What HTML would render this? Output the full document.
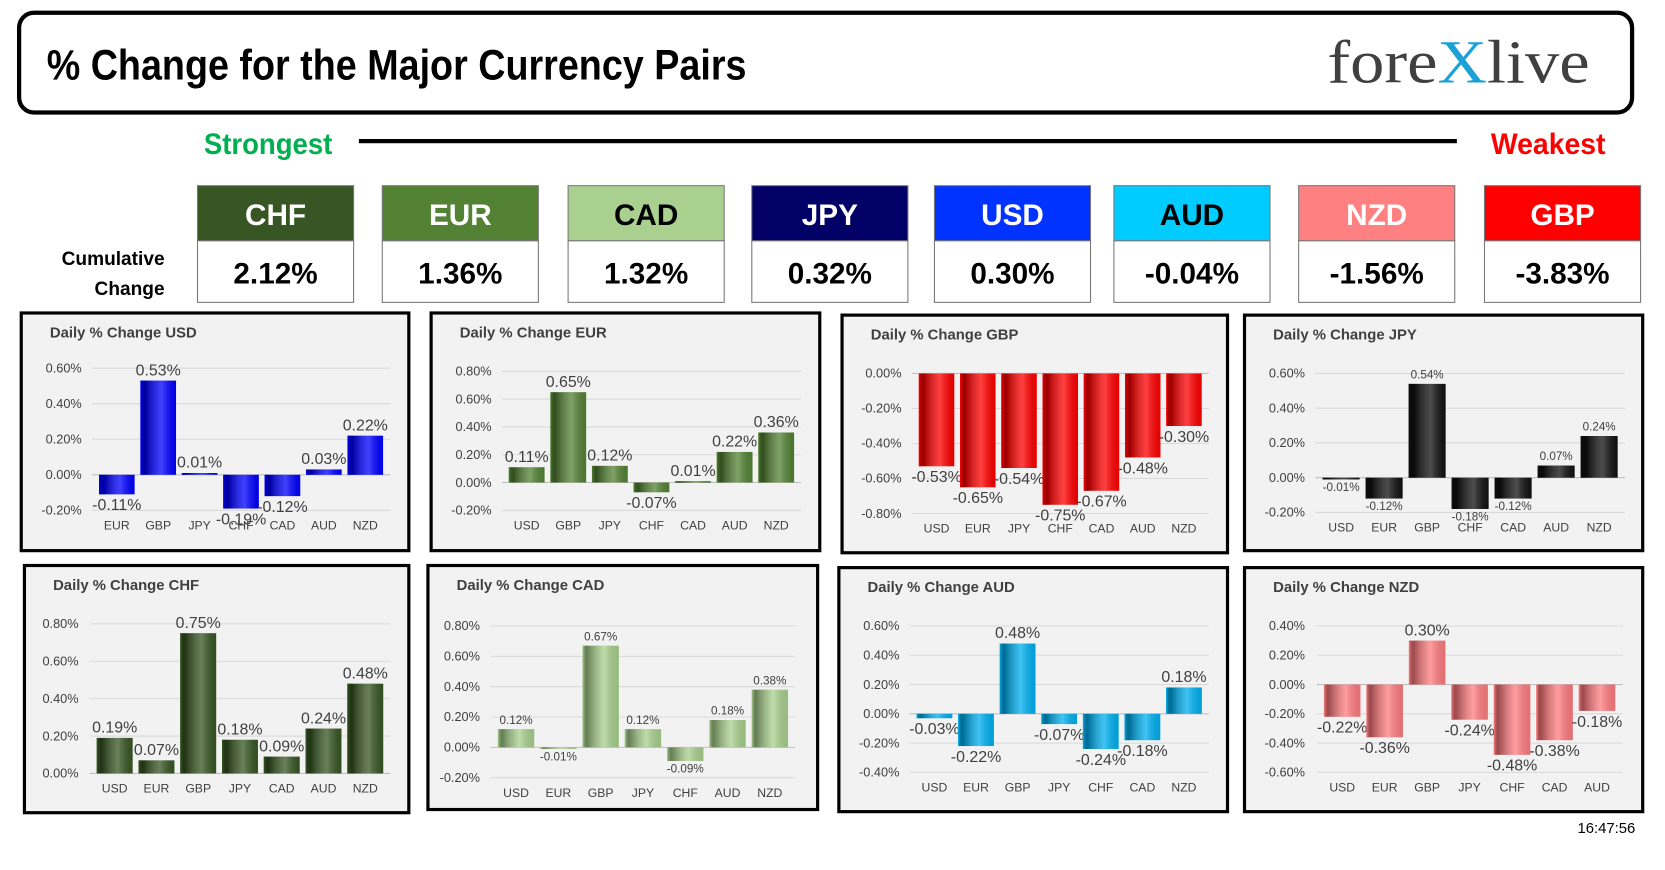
<!DOCTYPE html>
<html><head><meta charset="utf-8">
<style>
html,body{margin:0;padding:0;background:#fff;}
svg{display:block;font-family:"Liberation Sans",sans-serif;}
.imp{font-family:"Liberation Sans Narrow","Liberation Sans",sans-serif;font-weight:bold;}
</style></head>
<body>
<svg id="root" width="1665" height="870" viewBox="0 0 1568 820" preserveAspectRatio="none">
<defs id="defs"></defs>
<rect x="18" y="12" width="1519" height="94" rx="14" fill="#fff" stroke="#000" stroke-width="4"/>
<text x="44" y="75" class="imp" font-size="40" textLength="659" lengthAdjust="spacingAndGlyphs">% Change for the Major Currency Pairs</text>
<text x="1250" y="78" font-family="Liberation Serif,serif" font-size="58" fill="#404040" textLength="247" lengthAdjust="spacingAndGlyphs">fore<tspan fill="#1ba1d6">X</tspan>live</text>
<text x="192" y="145" class="imp" font-size="28" fill="#00b050" textLength="121" lengthAdjust="spacingAndGlyphs">Strongest</text>
<rect x="338" y="131" width="1034" height="4" fill="#000"/>
<text x="1404" y="145" class="imp" font-size="28" fill="#ff0000" textLength="108" lengthAdjust="spacingAndGlyphs">Weakest</text>
<text x="155" y="250" class="imp" font-size="18" text-anchor="end">Cumulative</text>
<text x="155" y="278" class="imp" font-size="18" text-anchor="end">Change</text>
<g id="cards"></g>
<g id="panels"></g>
<text x="1540" y="785" font-size="14" text-anchor="end">16:47:56</text>
</svg>
<script>
const NS="http://www.w3.org/2000/svg";
const cardCurrencies=["CHF","EUR","CAD","JPY","USD","AUD","NZD","GBP"];
const cardValues=[2.12,1.36,1.32,0.32,0.30,-0.04,-1.56,-3.83];
const cardColors=["#375623","#548235","#a9d08e","#000066","#0033ff","#00ccff","#ff8080","#ff0000"];
const cardTextColors=["#fff","#fff","#000","#fff","#fff","#000","#fff","#fff"];
const cardX=[186,360,535,708,880,1049,1223,1398];

const usdCats=["EUR","GBP","JPY","CHF","CAD","AUD","NZD"];
const usdVals=[-0.11,0.53,0.01,-0.19,-0.12,0.03,0.22];
const eurCats=["USD","GBP","JPY","CHF","CAD","AUD","NZD"];
const eurVals=[0.11,0.65,0.12,-0.07,0.01,0.22,0.36];
const gbpCats=["USD","EUR","JPY","CHF","CAD","AUD","NZD"];
const gbpVals=[-0.53,-0.65,-0.54,-0.75,-0.67,-0.48,-0.30];
const jpyCats=["USD","EUR","GBP","CHF","CAD","AUD","NZD"];
const jpyVals=[-0.01,-0.12,0.54,-0.18,-0.12,0.07,0.24];
const chfCats=["USD","EUR","GBP","JPY","CAD","AUD","NZD"];
const chfVals=[0.19,0.07,0.75,0.18,0.09,0.24,0.48];
const cadCats=["USD","EUR","GBP","JPY","CHF","AUD","NZD"];
const cadVals=[0.12,-0.01,0.67,0.12,-0.09,0.18,0.38];
const audCats=["USD","EUR","GBP","JPY","CHF","CAD","NZD"];
const audVals=[-0.03,-0.22,0.48,-0.07,-0.24,-0.18,0.18];
const nzdCats=["USD","EUR","GBP","JPY","CHF","CAD","AUD"];
const nzdVals=[-0.22,-0.36,0.30,-0.24,-0.48,-0.38,-0.18];

function el(tag,attrs,parent){const e=document.createElementNS(NS,tag);for(const k in attrs)e.setAttribute(k,attrs[k]);parent.appendChild(e);return e;}

const cards=document.getElementById('cards');
cardCurrencies.forEach((c,i)=>{
  const x=cardX[i];
  const g=el('g',{},cards);
  
  
  el('rect',{x:x,y:175,width:147,height:52,fill:cardColors[i],stroke:'#777','stroke-width':1},g);
  el('rect',{x:x,y:227,width:147,height:58,fill:'#fff',stroke:'#777','stroke-width':1},g);
  const t=el('text',{x:x+73.5,y:212,'text-anchor':'middle','font-size':28,fill:cardTextColors[i],class:'imp'},g);t.textContent=c;
  const v=el('text',{x:x+73.5,y:267,'text-anchor':'middle','font-size':28,class:'imp'},g);
  v.textContent=cardValues[i].toFixed(2)+'%';
});

const defs=document.getElementById('defs');
function grad(id,col){
  const lg=el('linearGradient',{id:id,x1:0,x2:1,y1:0,y2:0},defs);
  el('stop',{offset:'0','stop-color':col,'stop-opacity':1},lg);
  el('stop',{offset:'0.15','stop-color':'#000','stop-opacity':0.35},lg);
  el('stop',{offset:'0.6','stop-color':'#fff','stop-opacity':0.25},lg);
  el('stop',{offset:'1','stop-color':'#000','stop-opacity':0.1},lg);
}

const panels=[
 {name:'usd',title:'Daily % Change USD',box:[20,295,365,224],cats:usdCats,vals:usdVals,color:'#0000ff',tmax:0.6,tmin:-0.2,yTop:347,yBot:481,cx0:110,cx1:344,lf:15,ax:77},
 {name:'eur',title:'Daily % Change EUR',box:[406,295,366,224],cats:eurCats,vals:eurVals,color:'#548235',tmax:0.8,tmin:-0.2,yTop:350,yBot:481,cx0:496,cx1:731,lf:15,ax:463},
 {name:'gbp',title:'Daily % Change GBP',box:[793,297,363,224],cats:gbpCats,vals:gbpVals,color:'#ff0000',tmax:0.0,tmin:-0.8,yTop:352,yBot:484,cx0:882,cx1:1115,lf:15,ax:849},
 {name:'jpy',title:'Daily % Change JPY',box:[1172,297,375,222],cats:jpyCats,vals:jpyVals,color:'#111111',tmax:0.6,tmin:-0.2,yTop:352,yBot:483,cx0:1263,cx1:1506,lf:11,ax:1229},
 {name:'chf',title:'Daily % Change CHF',box:[23,533,362,233],cats:chfCats,vals:chfVals,color:'#375623',tmax:0.8,tmin:0.0,yTop:588,yBot:729,cx0:108,cx1:344,lf:15,ax:74},
 {name:'cad',title:'Daily % Change CAD',box:[403,533,367,230],cats:cadCats,vals:cadVals,color:'#a9d08e',tmax:0.8,tmin:-0.2,yTop:590,yBot:733,cx0:486,cx1:725,lf:11,ax:452},
 {name:'aud',title:'Daily % Change AUD',box:[790,535,366,230],cats:audCats,vals:audVals,color:'#00b0f0',tmax:0.6,tmin:-0.4,yTop:590,yBot:728,cx0:880,cx1:1115,lf:15,ax:847},
 {name:'nzd',title:'Daily % Change NZD',box:[1172,535,375,230],cats:nzdCats,vals:nzdVals,color:'#ff7c80',tmax:0.4,tmin:-0.6,yTop:590,yBot:728,cx0:1264,cx1:1504,lf:15,ax:1229}
];

const pg=document.getElementById('panels');
panels.forEach(p=>{
  grad('g-'+p.name,p.color);
  const g=el('g',{},pg);
  
  
  const [bx,by,bw,bh]=p.box;
  el('rect',{x:bx,y:by,width:bw,height:bh,fill:'#f2f2f2',stroke:'#000','stroke-width':3},g);
  const t=el('text',{x:bx+27,y:by+23,'font-size':14,'font-weight':'bold',fill:'#404040'},g);
  t.textContent=p.title;
  
  
  const ys=v=>p.yTop+(p.tmax-v)/(p.tmax-p.tmin)*(p.yBot-p.yTop);
  const n=p.cats.length, step=(p.cx1-p.cx0)/(n-1);
  const xs=i=>p.cx0+i*step;
  const gl=p.cx0-step*0.6, gr=p.cx1+step*0.6;
  const nt=Math.round((p.tmax-p.tmin)/0.2);
  for(let k=0;k<=nt;k++){
    const v=p.tmax-k*0.2, y=ys(v);
    el('line',{x1:gl,x2:gr,y1:y,y2:y,stroke:Math.abs(v)<1e-9?'#bfbfbf':'#d9d9d9','stroke-width':1},g);
    const tl=el('text',{x:p.ax,y:y+4,'text-anchor':'end','font-size':12,fill:'#404040'},g);
    tl.textContent=(Math.abs(v)<1e-9?0:v).toFixed(2)+'%';
    
    
  }
  const z=ys(0), bwid=step*0.86;
  p.cats.forEach((c,i)=>{
    const v=p.vals[i], x=xs(i), y=ys(v);
    const top=Math.min(y,z), h=Math.max(Math.abs(y-z),1.5);
    const r=el('rect',{x:x-bwid/2,y:top,width:bwid,height:h,fill:p.color},g);
    
    
    el('rect',{x:x-bwid/2,y:top,width:bwid,height:h,fill:'url(#g-'+p.name+')'},g);
    const lbl=el('text',{x:x,y:v>=0?top-5:top+h+(p.lf>12?15:11),'text-anchor':'middle','font-size':p.lf,fill:'#404040'},g);
    lbl.textContent=v.toFixed(2)+'%';
    
    
    const cl=el('text',{x:x,y:p.yBot+18,'text-anchor':'middle','font-size':11.5,fill:'#404040'},g);
    cl.textContent=c;
    
    
  });
});
</script>
</body></html>
